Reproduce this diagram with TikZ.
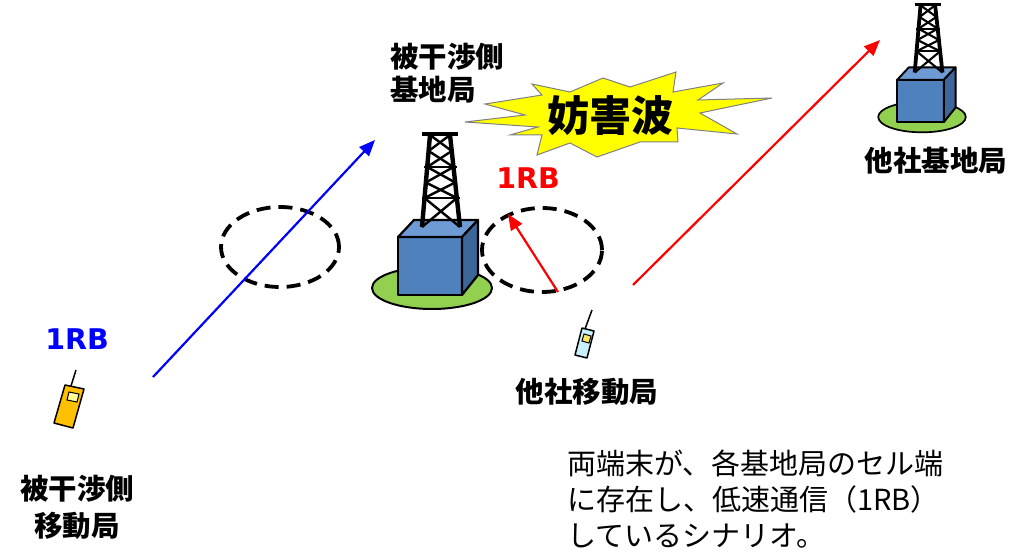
\documentclass[tikz,border=0pt]{standalone}
\usepackage{fontspec}
\newfontfamily\jp{Noto Sans CJK JP}
\newfontfamily\lat{DejaVu Sans}
\usetikzlibrary{arrows.meta,shapes.geometric}
\definecolor{groundgreen}{HTML}{92D050}
\definecolor{cubefront}{HTML}{4F81BD}
\definecolor{cubetop}{HTML}{6E9BD3}
\definecolor{cubeside}{HTML}{3D6699}
\definecolor{handsetA}{HTML}{FFC000}
\definecolor{screenA}{HTML}{FFFF99}
\definecolor{handsetB}{HTML}{C8F0FB}
\definecolor{screenB}{HTML}{FFE566}
\definecolor{burst}{HTML}{FFFF00}
\begin{document}
\begin{tikzpicture}[x=1pt,y=-1pt,
  boldlabel/.style={inner sep=0pt, font=\jp\bfseries\fontsize{28.5}{34}\selectfont},
  bodytext/.style={inner sep=0pt, anchor=base west, font=\jp\fontsize{29}{36}\selectfont},
  rblabel/.style={inner sep=0pt, font=\lat\bfseries\fontsize{28.5}{32}\selectfont},
  cell/.style={ellipse, draw=black, line width=3.8pt, dash pattern=on 14pt off 8pt,
    minimum width=#1},
  link/.style={line width=2.2pt, -{Triangle[length=16pt,width=13pt]}},
  pics/station/.style={code={
    % ground disc
    \draw[line width=#1*0.9pt, fill=groundgreen] (0,0) ellipse [x radius=60, y radius=21];
    % equipment cube
    \begin{scope}[line width=#1*1pt, line join=round]
      \draw[fill=cubefront] (-34,-51) rectangle (30,7);
      \draw[fill=cubetop] (-34,-51) -- (30,-51) -- (46,-68) -- (-18,-68) -- cycle;
      \draw[fill=cubeside] (30,-51) -- (46,-68) -- (46,-13) -- (30,7) -- cycle;
    \end{scope}
    % lattice mast
    \begin{scope}[line width=#1*1.1pt]
      \foreach \ya/\yb in {-153/-137,-137/-121,-121/-105.5,-105.5/-90,-90/-61}{
        \draw ({-10+(-61-(\ya))*0.087},\ya) -- ({28-(-61-(\yb))*0.1087},\yb);
        \draw ({28-(-61-(\ya))*0.1087},\ya) -- ({-10+(-61-(\yb))*0.087},\yb);
      }
      \draw (-10,-90) -- (28,-90);
      \draw (-8,-121) -- (25,-121);
    \end{scope}
    \draw[line width=#1*2pt] (-10,-61) -- (-2,-153);
    \draw[line width=#1*2pt] (28,-61) -- (18,-153);
    \draw[line width=#1*1.8pt] (-10,-154) -- (26,-154);
  }},
]
\useasboundingbox (0,0) rectangle (1011,553);

% base stations
\pic (mainbs) at (432,288) {station=2.2};
\pic[scale=0.73] (otherbs) at (922,117) {station=1.9};

% interference burst
\filldraw[fill=burst, draw=gray, line width=1pt]
  (465,122) -- (525,115) -- (485,104) -- (542,95) -- (532,84) -- (570,92)
  -- (603,78) -- (630,87) -- (676,72) -- (673,92) -- (723,83) -- (698,100)
  -- (772,98) -- (700,113) -- (737,134) -- (677,128) -- (678,142) -- (640,142)
  -- (597,157) -- (570,143) -- (537,155) -- (542,135) -- (510,135) -- (538,127)
  -- cycle;
\node[inner sep=0pt, anchor=base, font=\jp\bfseries\fontsize{42}{48}\selectfont]
  (noise) at (610,132) {妨害波};

% cell edges
\node[cell=118pt, minimum height=80pt] (cellL) at (280,247) {};
\node[cell=120pt, minimum height=84pt] (cellR) at (542,250) {};

% handsets
\filldraw[fill=handsetA, line width=1.5pt, line join=round]
  (65,385) -- (84,389) -- (73,428) -- (54,423) -- cycle;
\filldraw[fill=screenA, line width=1pt] (69,392) -- (79,394) -- (77,402) -- (67,400) -- cycle;
\draw[line width=1.5pt] (71,386) -- (76,370);
\filldraw[fill=handsetB, line width=1.5pt, line join=round]
  (582,328) -- (594,331) -- (587,358) -- (575,355) -- cycle;
\filldraw[fill=screenB, line width=1pt] (584,334) -- (591,336) -- (589,343) -- (582,341) -- cycle;
\draw[line width=1.5pt] (585,329) -- (592,310);

% radio links
\coordinate (blueTail) at (153,377);
\coordinate (blueHead) at (375,140);
\coordinate (redTail) at (558,292);
\coordinate (redHead) at (508,214);
\coordinate (farTail) at (633,285);
\coordinate (farHead) at (880,40);
\draw[link, blue] (blueTail) -- (blueHead);
\draw[link, red] (redTail) -- (redHead);
\draw[link, red] (farTail) -- (farHead);

% labels
\node[rblabel, text=blue] (rbBlue) at (77,339) {1RB};
\node[rblabel, text=red] (rbRed) at (528,178) {1RB};
\node[boldlabel, anchor=base west] (vbsA) at (390,68) {被干渉側};
\node[boldlabel, anchor=base west] (vbsB) at (390,101) {基地局};
\node[boldlabel, anchor=base] (obs) at (936,172) {他社基地局};
\node[boldlabel, anchor=base] (oms) at (587,402) {他社移動局};
\node[boldlabel, anchor=base] (vmsA) at (77,499) {被干渉側};
\node[boldlabel, anchor=base] (vmsB) at (77,536) {移動局};
\node[bodytext] (noteA) at (567,474) {両端末が、各基地局のセル端};
\node[bodytext] (noteB) at (567,510) {に存在し、低速通信（1RB）};
\node[bodytext] (noteC) at (567,546) {しているシナリオ。};
\end{tikzpicture}
\end{document}
